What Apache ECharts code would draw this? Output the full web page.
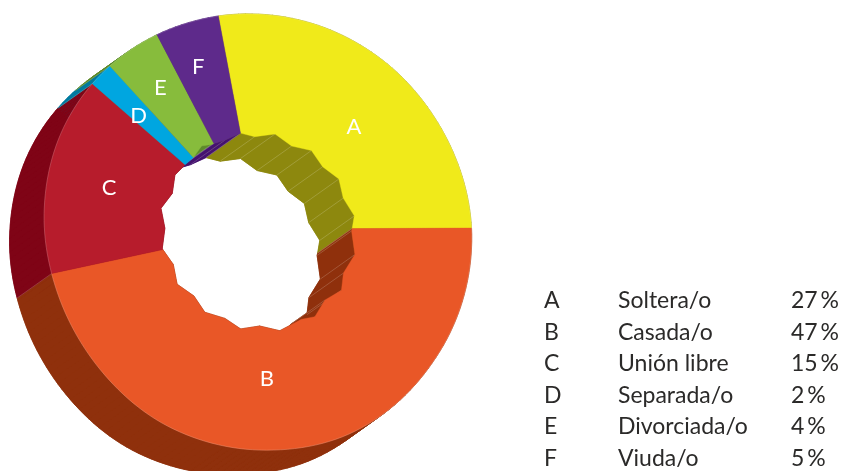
<!DOCTYPE html>
<html>
<head>
<meta charset="utf-8">
<style>html,body{margin:0;padding:0;background:#fff}#c{width:843px;height:471px}</style>
<script src="https://cdn.jsdelivr.net/npm/echarts@6/dist/echarts.min.js"></script>
</head>
<body>
<div id="c"></div>
<script>
// ---- data ----
const letters = ['A','B','C','D','E','F'];
const names = ['Soltera/o','Casada/o','Unión libre','Separada/o','Divorciada/o','Viuda/o'];
const percentLabels = ['27\u2009%','47\u2009%','15\u2009%','2\u2009%','4\u2009%','5\u2009%'];
// share of the full turn that each slice covers in the drawing
const sliceShares = [27.9,46.7,14.8,1.8,4.1,4.7];
// wavy edge of the hole: position round the ring (% of a turn) and radius
const holeAngles = [0,2.3,5.7,9.0,12.4,15.7,19.1,22.4,25.8,28.3,32.1,35.6,38.1,41.0,43.9,45.9,49.7,52.8,55.8,58.7,62.1,65.2,68.5,71.7,74.8,78.1,81.3,84.2,87.1,89.4,91.2,93.4,94.9,97.2,100];
const holeRadii = [97.6,92.4,96.4,89.3,94.6,89.3,94.6,90.1,96.6,93,99.6,95.6,103,97.2,104.2,100,103.9,97,101.5,95.5,99.1,93.1,98.4,92.4,98.3,93.7,99.8,93.4,99.6,97.6,96.7,100.7,96.8,95,97.6];
// outer rim is not a true circle in the reference: position and radius
const rimAngles = [0,6,13,20,28,38,46,52,60,67,73,79,86,92,100];
const rimRadii = [216.8,213,209.5,208.5,213,219,224,221.5,217,211.5,211,215,220,220.5,216.8];

// ---- styling ----
const faceColors = ['#F0EA1A','#E95727','#B71C2C','#00A6E0','#87BC3C','#5E2A8B'];
const wallColors = ['#8D880E','#8F300C','#7F0416','#007AA0','#5C8A2A','#45126F'];
const labelSpots = [[140,14.9],[150,52.1],[155,82.2],[165,90],[172,93.3],[173,97.3]];
const AXIS_MAX = 230, WALL_DX = -34.5, WALL_DY = 24.5, STEP = 0.5;
const FONT = 'Lato';
const SEAM = 'rgba(255,255,255,0.3)';

const starts = [];
sliceShares.reduce((s,v,i)=>{starts[i]=s;return s+v;},0);
const total = sliceShares.reduce((a,b)=>a+b,0);

function holeAt(p){
  for(let i=1;i<holeAngles.length;i++){
    if(p<=holeAngles[i]){
      return holeRadii[i-1]+(holeRadii[i]-holeRadii[i-1])*(p-holeAngles[i-1])/(holeAngles[i]-holeAngles[i-1]);
    }
  }
  return holeRadii[holeRadii.length-1];
}
// smooth reading of the rim table (wraps round the ring)
function rimAt(p){
  const n=rimAngles.length-1;
  let i=0;
  while(i<n-1&&p>rimAngles[i+1]) i++;
  const y=k=>rimRadii[(k+n)%n], x0=rimAngles[i], x1=rimAngles[i+1];
  const t=Math.min(1,Math.max(0,(p-x0)/(x1-x0)));
  const a=y(i-1),b=y(i),c=y(i+1),d=y(i+2);
  return 0.5*(2*b+(c-a)*t+(2*a-5*b+4*c-d)*t*t+(3*b-a-3*c+d)*t*t*t);
}
function edges(i,api){
  const a=starts[i], b=a+sliceShares[i];
  const outer=[], inner=[];
  for(let p=a;p<b;p+=STEP) outer.push(api.coord([rimAt(p),p]));
  outer.push(api.coord([rimAt(b),b]));
  const marks=[a,...holeAngles.filter(h=>h>a&&h<b),b];
  marks.forEach(p=>inner.push(api.coord([holeAt(p),p])));
  return {outer,inner};
}
const shift=pt=>[pt[0]+WALL_DX,pt[1]+WALL_DY];
function quad(p,q,fill){
  return {type:'polygon',shape:{points:[p,q,shift(q),shift(p)]},
    style:{fill,stroke:fill,lineWidth:0.6}};
}
function seam(p){
  const e=shift(p);
  return {type:'line',shape:{x1:p[0],y1:p[1],x2:e[0],y2:e[1]},style:{stroke:SEAM,lineWidth:0.6}};
}
function renderBack(params,api){
  const i=params.dataIndex, c=wallColors[i], {outer,inner}=edges(i,api);
  return {type:'polygon',shape:{points:[...outer,...inner.slice().reverse()].map(shift)},style:{fill:c,stroke:c,lineWidth:0.6}};
}
function renderSweep(params,api){
  const i=params.dataIndex, c=wallColors[i], {outer,inner}=edges(i,api);
  const kids=[];
  for(let k=0;k+1<outer.length;k++) kids.push(quad(outer[k],outer[k+1],c));
  for(let k=0;k+1<inner.length;k++) kids.push(quad(inner[k],inner[k+1],c));
  inner.forEach(p=>kids.push(seam(p)));
  kids.push(seam(outer[0]));
  return {type:'group',children:kids};
}
function renderFace(params,api){
  const i=params.dataIndex, c=faceColors[i], {outer,inner}=edges(i,api);
  const spot=api.coord(labelSpots[i]);
  return {type:'group',children:[
    {type:'polygon',shape:{points:[...outer,...inner.slice().reverse()]},style:{fill:c,stroke:c,lineWidth:0.4}},
    {type:'polyline',shape:{points:outer},style:{fill:'none',stroke:SEAM,lineWidth:0.6}},
    {type:'text',x:spot[0],y:spot[1],style:{text:letters[i],fill:'#fff',font:'22px '+FONT,align:'center',verticalAlign:'middle'},z2:10}
  ]};
}
const sliceRows=sliceShares.map((v,i)=>[AXIS_MAX,starts[i]+v/2]);

const legendCols=[[544,letters],[618,names],[791,percentLabels]];
const legendRows=[301,332.5,364,395.5,427,459];
const graphics=[];
legendCols.forEach(([x,col])=>col.forEach((t,r)=>graphics.push({
  type:'text',x,y:legendRows[r],
  style:{text:t,fill:'#2b2a29',font:'23px '+FONT,verticalAlign:'middle',align:'left'}
})));

const chart=echarts.init(document.getElementById('c'),null,{renderer:'canvas'});
chart.setOption({
  animation:false,
  backgroundColor:'#fff',
  polar:{center:[258.6,229],radius:AXIS_MAX},
  radiusAxis:{type:'value',min:0,max:AXIS_MAX,show:false},
  angleAxis:{type:'value',min:0,max:total,startAngle:100.7,clockwise:true,show:false},
  graphic:graphics,
  series:[
    {type:'custom',coordinateSystem:'polar',data:sliceRows,renderItem:renderBack,z:1,silent:true},
    {type:'custom',coordinateSystem:'polar',data:sliceRows,renderItem:renderSweep,z:2,silent:true},
    {type:'custom',coordinateSystem:'polar',data:sliceRows,renderItem:renderFace,z:3,silent:true}
  ]
});
</script>
</body>
</html>
